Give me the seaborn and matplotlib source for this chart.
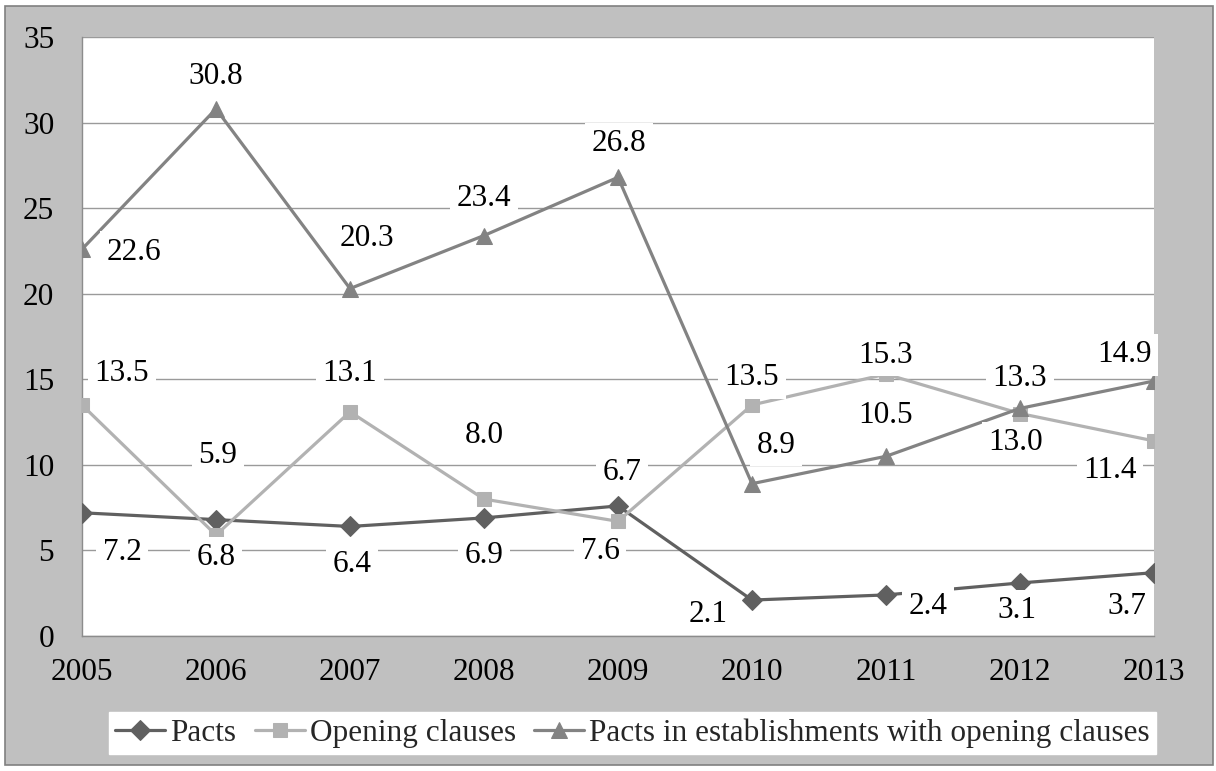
import matplotlib
matplotlib.use("Agg")
import matplotlib.pyplot as plt
import seaborn as sns
from matplotlib.patches import Rectangle

years = [2005, 2006, 2007, 2008, 2009, 2010, 2011, 2012, 2013]
pacts = [7.2, 6.8, 6.4, 6.9, 7.6, 2.1, 2.4, 3.1, 3.7]
opening = [13.5, 5.9, 13.1, 8.0, 6.7, 13.5, 15.3, 13.0, 11.4]
pacts_est = [22.6, 30.8, 20.3, 23.4, 26.8, 8.9, 10.5, 13.3, 14.9]
series_names = ["Pacts", "Opening clauses",
                "Pacts in establishments with opening clauses"]

# label offsets in pixels (dx, dy; dy positive = downward)
pacts_off = [(40, 40), (0, 38), (2, 38), (0, 38), (-18, 46),
             (-44, 14), (42, 12), (-3, 28), (-27, 34)]
opening_off = [(40, -31), (2, -80), (0, -38), (0, -64), (4, -49),
               (0, -27), (0, -19), (-4, 29), (-44, 30)]
est_off = [(52, 3), (0, -32), (17, -50), (0, -37), (1, -34),
           (24, -38), (0, -41), (0, -30), (-30, -26)]

FS = 22.5

sns.set_theme(style="white")
plt.rcParams["font.family"] = ["Liberation Serif", "DejaVu Serif"]

W, H = 1216, 771
fig = plt.figure(figsize=(W / 100, H / 100), dpi=100, facecolor="white")
fig.patches.append(Rectangle((5 / W, 6 / H), 1208 / W, 759 / H,
                             transform=fig.transFigure, facecolor="#c0c0c0",
                             edgecolor="#808080", linewidth=1.2, zorder=-10))

ax = fig.add_axes([82 / W, 1 - 636 / H, (1154 - 82) / W, (636 - 37) / H])
ax.set_facecolor("white")

styles = [
    (pacts, "#606060", "D", 10.5, pacts_off),
    (opening, "#b2b2b2", "s", 10.5, opening_off),
    (pacts_est, "#838383", "^", 11, est_off),
]
for (vals, color, mk, ms, offs), name in zip(styles, series_names):
    sns.lineplot(x=years, y=vals, ax=ax, color=color, marker=mk,
                 markersize=ms, markeredgecolor=color, linewidth=2.3,
                 label=name, zorder=3)

# gridlines and axes
ax.set_ylim(0, 35)
ax.set_xlim(2005, 2013)
ax.set_yticks(range(0, 36, 5))
ax.set_xticks(years)
ax.set_xticklabels([str(y) for y in years])
ax.yaxis.grid(True, color="#9a9a9a", linewidth=1.0)
ax.xaxis.grid(False)
ax.set_axisbelow(True)
for side in ["top", "right"]:
    ax.spines[side].set_visible(False)
for side in ["left", "bottom"]:
    ax.spines[side].set_color("#8c8c8c")
    ax.spines[side].set_linewidth(1.0)
ax.tick_params(axis="both", which="both", direction="out", length=7,
               width=1.0, color="#8c8c8c", labelsize=FS, labelcolor="black")
ax.tick_params(axis="x", pad=9)
ax.tick_params(axis="y", pad=13)
ax.set_xlabel("")
ax.set_ylabel("")

# value labels
for vals, color, mk, ms, offs in styles:
    for x, v, (dx, dy) in zip(years, vals, offs):
        ax.annotate(f"{v:.1f}", (x, v), xytext=(dx, -dy),
                    textcoords="offset pixels", ha="center", va="center",
                    fontsize=FS, color="black", zorder=5,
                    annotation_clip=False,
                    bbox=dict(boxstyle="square,pad=0.2", facecolor="white",
                              edgecolor="none"))

leg = ax.legend(loc="center right", bbox_to_anchor=(1156 / W, 1 - 733 / H),
                bbox_transform=fig.transFigure, ncol=3, frameon=True,
                fancybox=False, fontsize=FS, handlelength=1.6,
                handletextpad=0.15, columnspacing=0.6, borderpad=0.2,
                borderaxespad=0)
leg.get_frame().set_facecolor("white")
leg.get_frame().set_edgecolor("white")
leg.get_frame().set_alpha(1)

fig.savefig("out.png", dpi=100, facecolor="white")
